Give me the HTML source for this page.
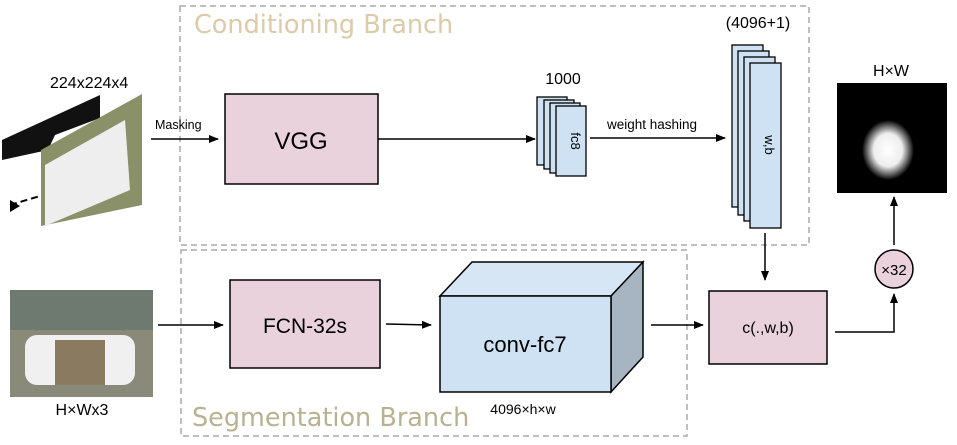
<!DOCTYPE html>
<html><head><style>body{margin:0;background:#fff}</style></head><body>
<svg width="957" height="440" viewBox="0 0 957 440" xmlns="http://www.w3.org/2000/svg" font-family="Liberation Sans, sans-serif">
<defs><marker id="a" markerWidth="10" markerHeight="8" refX="9" refY="4" orient="auto" markerUnits="userSpaceOnUse"><path d="M0,0L10,4L0,8z" fill="#000"/></marker>
<radialGradient id="g" cx="0.5" cy="0.5" r="0.5"><stop offset="0" stop-color="#fff"/><stop offset="0.55" stop-color="#eee"/><stop offset="1" stop-color="#000"/></radialGradient></defs>
<rect x="180" y="6" width="629" height="239" fill="none" stroke="#aaa" stroke-width="1.5" stroke-dasharray="6,4"/>
<rect x="181" y="250" width="506" height="186" fill="none" stroke="#aaa" stroke-width="1.5" stroke-dasharray="6,4"/>
<text x="194" y="33" font-size="25.5" fill="#dccaa8" font-family="DejaVu Sans, sans-serif">Conditioning Branch</text>
<text x="192" y="426" font-size="25.5" fill="#b8b290" font-family="DejaVu Sans, sans-serif">Segmentation Branch</text>
<!-- goat input -->
<polygon points="2,140 100,95 100,118 55,135 48,150 2,160" fill="#111"/>
<polygon points="41,150 142,94 142,205 41,226" fill="#8a9068"/>
<polygon points="45,165 125,120 130,190 45,226" fill="#eee"/>
<path d="M10,205 L40,196" stroke="#000" stroke-width="2" stroke-dasharray="7,4"/>
<polygon points="10,200 20,206 10,212" fill="#000"/>
<text x="50" y="88" font-size="16">224x224x4</text>
<text x="155" y="129" font-size="12.5">Masking</text>
<line x1="151" y1="139" x2="218" y2="139" stroke="#000" stroke-width="1.5" marker-end="url(#a)"/>
<rect x="225" y="94" width="153" height="90" fill="#ead2dc" stroke="#000" stroke-width="1.5"/>
<text x="301" y="149" font-size="24" text-anchor="middle">VGG</text>
<line x1="378" y1="139" x2="535" y2="139" stroke="#000" stroke-width="1.5" marker-end="url(#a)"/>
<g fill="#cfe2f3" stroke="#000" stroke-width="1.3">
<rect x="537" y="97" width="30" height="68"/><rect x="544" y="100" width="30" height="69"/><rect x="550" y="103" width="30" height="70"/><rect x="556" y="106" width="30" height="70"/>
</g>
<text x="571" y="141" font-size="13" text-anchor="middle" transform="rotate(90 571 141)">fc8</text>
<text x="563" y="84" font-size="16" text-anchor="middle">1000</text>
<text x="652" y="129" font-size="13.5" text-anchor="middle">weight hashing</text>
<line x1="590" y1="138" x2="725" y2="138" stroke="#000" stroke-width="1.5" marker-end="url(#a)"/>
<g fill="#cfe2f3" stroke="#000" stroke-width="1.3">
<rect x="732" y="45" width="31" height="162"/><rect x="738" y="51" width="31" height="164"/><rect x="744" y="57" width="31" height="164"/><rect x="750" y="63" width="31" height="165"/>
</g>
<text x="765" y="145" font-size="13" text-anchor="middle" transform="rotate(90 765 145)">w,b</text>
<text x="758" y="28" font-size="16" text-anchor="middle">(4096+1)</text>
<line x1="765" y1="233" x2="765" y2="280" stroke="#000" stroke-width="1.5" marker-end="url(#a)"/>
<rect x="837" y="83" width="110" height="110" fill="#000"/>
<ellipse cx="888" cy="150" rx="26" ry="30" fill="url(#g)"/>
<text x="891" y="76" font-size="16" text-anchor="middle">H×W</text>
<line x1="894" y1="245" x2="894" y2="197" stroke="#000" stroke-width="1.5" marker-end="url(#a)"/>
<circle cx="894" cy="269" r="19" fill="#ead2dc" stroke="#000" stroke-width="1.5"/>
<text x="894" y="275" font-size="15" text-anchor="middle">×32</text>
<!-- photo -->
<rect x="10" y="290" width="143" height="107" fill="#8a8a7a"/>
<rect x="10" y="290" width="143" height="40" fill="#6e7a70"/>
<rect x="25" y="335" width="110" height="50" rx="12" fill="#f0f0f0"/>
<rect x="55" y="340" width="50" height="45" fill="#8a7a60"/>
<text x="82" y="415" font-size="16" text-anchor="middle">H×Wx3</text>
<line x1="158" y1="325" x2="223" y2="325" stroke="#000" stroke-width="1.5" marker-end="url(#a)"/>
<rect x="230" y="280" width="150" height="88" fill="#ead2dc" stroke="#000" stroke-width="1.5"/>
<text x="305" y="333" font-size="21" text-anchor="middle">FCN-32s</text>
<line x1="386" y1="324" x2="431" y2="325" stroke="#000" stroke-width="1.5" marker-end="url(#a)"/>
<polygon points="440,296 472,262 643,262 611,296" fill="#d6e6f4" stroke="#000" stroke-width="1.5"/>
<polygon points="611,296 643,262 643,357 611,392" fill="#a7b5c3" stroke="#000" stroke-width="1.5"/>
<rect x="440" y="296" width="171" height="96" fill="#cfe2f3" stroke="#000" stroke-width="1.5"/>
<text x="525" y="352" font-size="22" text-anchor="middle">conv-fc7</text>
<text x="523" y="414" font-size="14" text-anchor="middle">4096×h×w</text>
<line x1="651" y1="325" x2="703" y2="325" stroke="#000" stroke-width="1.5" marker-end="url(#a)"/>
<rect x="709" y="291" width="118" height="73" fill="#ead2dc" stroke="#000" stroke-width="1.5"/>
<text x="768" y="333" font-size="16" text-anchor="middle">c(.,w,b)</text>
<polyline points="835,332 894,332 894,294" fill="none" stroke="#000" stroke-width="1.5" marker-end="url(#a)"/>
</svg>
</body></html>
